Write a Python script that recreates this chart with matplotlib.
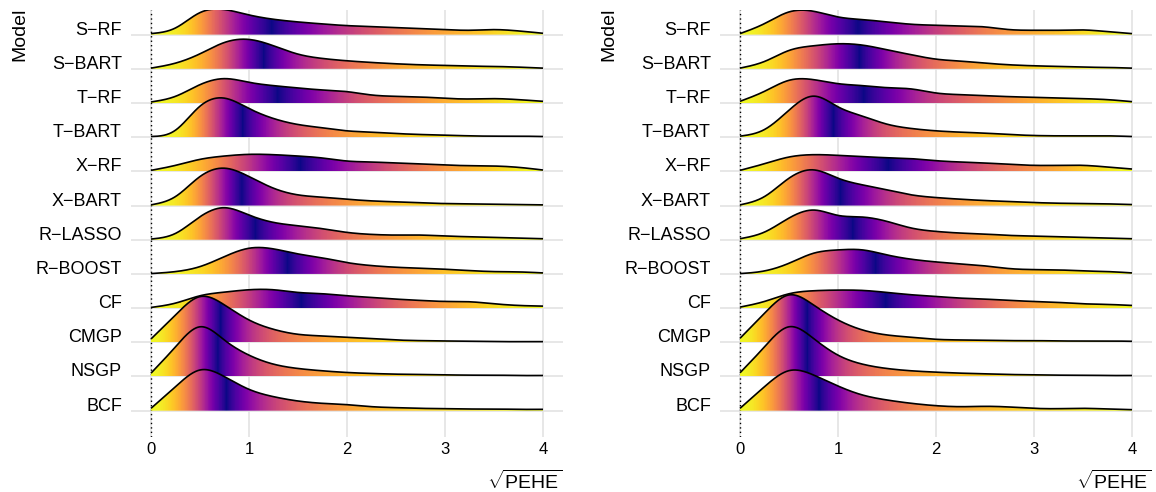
import numpy as np
import matplotlib
matplotlib.use("Agg")
import matplotlib.pyplot as plt
from matplotlib.patches import Polygon
from matplotlib.transforms import blended_transform_factory

plt.rcParams['font.family'] = ['Liberation Sans', 'DejaVu Sans']
plt.rcParams['mathtext.fontset'] = 'custom'
plt.rcParams['mathtext.rm'] = 'Liberation Sans'

# ---------------- data ----------------
models = ["S−RF", "S−BART", "T−RF", "T−BART", "X−RF", "X−BART",
          "R−LASSO", "R−BOOST", "CF", "CMGP", "NSGP", "BCF"]
x_grid = [0, 0.25, 0.5, 0.75, 1.0, 1.25, 1.5, 1.75, 2.0,
          2.25, 2.5, 2.75, 3.0, 3.25, 3.5, 3.75, 4.0]
x_ticks = [0, 1, 2, 3, 4]
x_title = r"$\sqrt{\mathrm{PEHE}}$"
y_title = "Model"

# density heights (relative units, ~102 = one ridge row) -- left panel
left_s_rf    = [3, 20, 66, 75, 59, 46, 38, 32, 27, 24, 21, 18, 15, 13, 15, 11, 4]
left_s_bart  = [2, 17, 45, 79, 88, 69, 44, 31, 24, 19, 15, 12, 10, 8, 7, 5, 2]
left_t_rf    = [3, 20, 55, 73, 62, 52, 45, 39, 34, 24, 20, 18, 14, 12, 13, 10, 5]
left_t_bart  = [2, 21, 93, 117, 86, 56, 38, 28, 19, 15, 11, 8, 6, 4, 3, 3, 2]
left_x_rf    = [3, 18, 36, 46, 51, 50, 46, 40, 31, 28, 25, 22, 19, 17, 16, 12, 4]
left_x_bart  = [2, 27, 87, 112, 87, 52, 32, 25, 19, 14, 11, 8, 6, 5, 4, 3, 2]
left_r_lasso = [2, 19, 69, 96, 74, 52, 42, 33, 22, 16, 14, 14, 11, 9, 7, 5, 3]
left_r_boost = [1, 7, 22, 52, 77, 75, 60, 48, 34, 25, 20, 17, 14, 10, 7, 6, 3]
left_cf      = [2, 15, 37, 48, 55, 55, 47, 43, 37, 32, 27, 23, 20, 19, 13, 8, 6]
left_cmgp    = [10, 82, 137, 112, 67, 39, 24, 19, 15, 11, 7, 5, 4, 3, 2, 2, 2]
left_nsgp    = [10, 89, 149, 109, 64, 37, 24, 17, 12, 9, 7, 6, 5, 4, 4, 3, 3]
left_bcf     = [7, 72, 122, 102, 64, 42, 29, 22, 18, 12, 9, 7, 6, 5, 5, 4, 4]

# density heights -- right panel
right_s_rf    = [3, 33, 68, 70, 53, 45, 38, 31, 28, 26, 23, 15, 13, 13, 14, 9, 3]
right_s_bart  = [2, 22, 55, 69, 75, 71, 57, 42, 29, 23, 17, 12, 9, 7, 5, 4, 2]
right_t_rf    = [5, 35, 68, 70, 58, 52, 46, 42, 30, 25, 22, 19, 17, 15, 13, 10, 4]
right_t_bart  = [3, 23, 81, 123, 91, 63, 39, 26, 19, 15, 12, 8, 5, 4, 4, 4, 2]
right_x_rf    = [3, 23, 43, 50, 48, 44, 41, 38, 32, 28, 25, 21, 18, 18, 18, 13, 7]
right_x_bart  = [2, 27, 82, 107, 82, 62, 47, 32, 24, 19, 15, 12, 9, 7, 6, 5, 3]
right_r_lasso = [3, 23, 65, 89, 73, 68, 55, 35, 25, 20, 17, 13, 11, 9, 7, 5, 3]
right_r_boost = [1, 9, 32, 62, 72, 72, 57, 44, 36, 30, 24, 16, 13, 12, 9, 7, 3]
right_cf      = [3, 20, 43, 52, 54, 53, 47, 40, 35, 30, 27, 23, 20, 17, 13, 11, 8]
right_cmgp    = [12, 87, 142, 112, 67, 37, 22, 15, 9, 7, 6, 5, 5, 4, 4, 4, 3]
right_nsgp    = [11, 89, 149, 114, 64, 37, 24, 17, 13, 10, 8, 6, 5, 4, 4, 3, 3]
right_bcf     = [7, 72, 120, 107, 74, 47, 32, 22, 15, 12, 13, 11, 7, 6, 7, 5, 3]

left_dens = [left_s_rf, left_s_bart, left_t_rf, left_t_bart, left_x_rf, left_x_bart,
             left_r_lasso, left_r_boost, left_cf, left_cmgp, left_nsgp, left_bcf]
right_dens = [right_s_rf, right_s_bart, right_t_rf, right_t_bart, right_x_rf, right_x_bart,
              right_r_lasso, right_r_boost, right_cf, right_cmgp, right_nsgp, right_bcf]

ROW_UNITS = 102.5  # density units per ridge row


def natural_spline(x, y, xf):
    x = np.asarray(x, float)
    y = np.asarray(y, float)
    n = len(x)
    h = np.diff(x)
    A = np.zeros((n, n))
    r = np.zeros(n)
    A[0, 0] = 1.0
    A[-1, -1] = 1.0
    for i in range(1, n - 1):
        A[i, i - 1] = h[i - 1]
        A[i, i] = 2 * (h[i - 1] + h[i])
        A[i, i + 1] = h[i]
        r[i] = 6 * ((y[i + 1] - y[i]) / h[i] - (y[i] - y[i - 1]) / h[i - 1])
    M = np.linalg.solve(A, r)
    idx = np.clip(np.searchsorted(x, xf) - 1, 0, n - 2)
    x0, x1 = x[idx], x[idx + 1]
    hh = x1 - x0
    t0 = x1 - xf
    t1 = xf - x0
    yf = (M[idx] * t0 ** 3 / (6 * hh) + M[idx + 1] * t1 ** 3 / (6 * hh)
          + (y[idx] / hh - M[idx] * hh / 6) * t0
          + (y[idx + 1] / hh - M[idx + 1] * hh / 6) * t1)
    return yf


cmap = plt.get_cmap('plasma')

W, H = 1156, 492
fig = plt.figure(figsize=(W / 100, H / 100), dpi=100)

panels = [
    (131.4, left_dens),
    (720.4, right_dens),
]

n = len(models)
row_pos = [n - 1 - i for i in range(n)]  # S-RF on top
ylim = (-0.77, n - 1 + 0.72)

for px_left, dens_list in panels:
    ax = fig.add_axes([px_left / W, (H - 437) / H, 431.2 / W, 427 / H])
    ax.set_xlim(-0.2, 4.2)
    ax.set_ylim(*ylim)
    for s in ax.spines.values():
        s.set_visible(False)
    ax.set_facecolor('white')
    for xv in x_ticks:
        ax.axvline(xv, color='#e3e3e3', lw=1.2, zorder=0)
    for yv in row_pos:
        ax.axhline(yv, color='#e3e3e3', lw=1.2, zorder=0)
    ax.axvline(0, color='black', lw=1.0, ls=(0, (1, 2.2)), zorder=1)

    xf = np.linspace(x_grid[0], x_grid[-1], 900)
    for i, (name, d) in enumerate(zip(models, dens_list)):
        base = row_pos[i]
        yf = np.clip(natural_spline(x_grid, d, xf), 0, None) / ROW_UNITS
        cum = np.concatenate([[0], np.cumsum((yf[1:] + yf[:-1]) / 2 * np.diff(xf))])
        ecdf = cum / cum[-1]
        val = 2 * np.abs(ecdf - 0.5)
        colors = cmap(val)[None, :, :]
        z = 2 + 2 * i
        verts = np.column_stack([np.concatenate([xf, [xf[-1], xf[0]]]),
                                 np.concatenate([base + yf, [base, base]])])
        poly = Polygon(verts, closed=True, facecolor='none', edgecolor='none',
                       transform=ax.transData)
        im = ax.imshow(colors, extent=(xf[0], xf[-1], base, base + yf.max()),
                       aspect='auto', interpolation='nearest', origin='lower',
                       zorder=z)
        im.set_clip_path(poly)
        ax.plot(xf, base + yf, color='black', lw=1.2, zorder=z + 1,
                solid_capstyle='butt')

    ax.set_xlim(-0.2, 4.2)
    ax.set_ylim(*ylim)
    ax.set_xticks(x_ticks)
    ax.set_xticklabels([str(v) for v in x_ticks])
    ax.set_yticks(row_pos)
    ax.set_yticklabels(models)
    ax.tick_params(axis='both', length=0, colors='black')
    ax.tick_params(axis='y', pad=6.8, labelsize=13)
    ax.tick_params(axis='x', pad=3.5, labelsize=12)
    for lab in ax.get_yticklabels():
        lab.set_va('baseline')

    tr = blended_transform_factory(ax.transAxes, fig.transFigure)
    fig.text(1.0, (H - 481) / H, x_title, transform=tr, ha='right', va='center',
             fontsize=14)
    fig.text((px_left - 112) / W, (H - 8) / H, y_title, rotation=90,
             ha='center', va='top', fontsize=14)

fig.savefig('out.png', dpi=100, facecolor='white')
